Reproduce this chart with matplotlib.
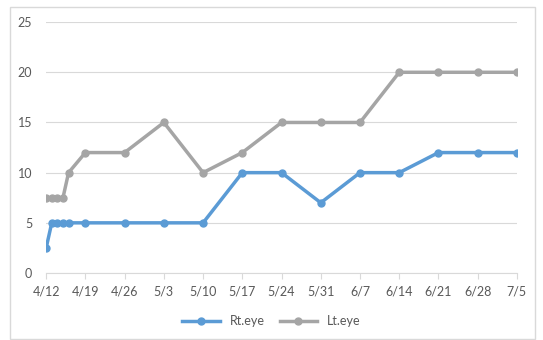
import matplotlib.pyplot as plt
import matplotlib.dates as mdates
import pandas as pd

plt.rcParams['font.family'] = ['Lato', 'DejaVu Sans']

# data
dates = pd.to_datetime(["2020-04-12", "2020-04-13", "2020-04-14", "2020-04-15", "2020-04-16",
                        "2020-04-19", "2020-04-26", "2020-05-03", "2020-05-10", "2020-05-17",
                        "2020-05-24", "2020-05-31", "2020-06-07", "2020-06-14", "2020-06-21",
                        "2020-06-28", "2020-07-05"])
rt_eye = [2.5, 5, 5, 5, 5, 5, 5, 5, 5, 10, 10, 7, 10, 10, 12, 12, 12]
lt_eye = [7.5, 7.5, 7.5, 7.5, 10, 12, 12, 15, 10, 12, 15, 15, 15, 20, 20, 20, 20]
tick_dates = pd.date_range("2020-04-12", "2020-07-05", freq="7D")

fig = plt.figure(figsize=(5.43, 3.4), dpi=100)
ax = fig.add_axes([0.085, 0.197, 0.867, 0.738])

ax.plot(dates, rt_eye, color="#5B9BD5", lw=2.5, marker="o", ms=5, label="Rt.eye")
ax.plot(dates, lt_eye, color="#A5A5A5", lw=2.5, marker="o", ms=5, label="Lt.eye")

ax.set_xlim(tick_dates[0], tick_dates[-1])
ax.set_ylim(0, 25)
ax.set_yticks(range(0, 26, 5))
ax.set_xticks(tick_dates)
ax.xaxis.set_major_formatter(mdates.DateFormatter("%-m/%-d"))

ax.grid(axis="y", color="#D9D9D9", lw=0.8)
ax.set_axisbelow(True)
for s in ["top", "right", "left"]:
    ax.spines[s].set_visible(False)
ax.spines["bottom"].set_color("#D9D9D9")
ax.tick_params(axis="y", length=0, labelsize=9, labelcolor="#595959", pad=10)
ax.tick_params(axis="x", length=4, color="#D9D9D9", labelsize=9, labelcolor="#595959", pad=5)

fig.legend(loc="center", bbox_to_anchor=(0.5, 0.056), ncol=2, frameon=False,
           fontsize=9, labelcolor="#595959", handlelength=3, columnspacing=1.2)

# frame around the chart
fig.patches.append(plt.Rectangle((0.018, 0.003), 0.967, 0.976, transform=fig.transFigure,
                                 fill=False, edgecolor="#D9D9D9", lw=1))

fig.savefig("out.png", dpi=100)
